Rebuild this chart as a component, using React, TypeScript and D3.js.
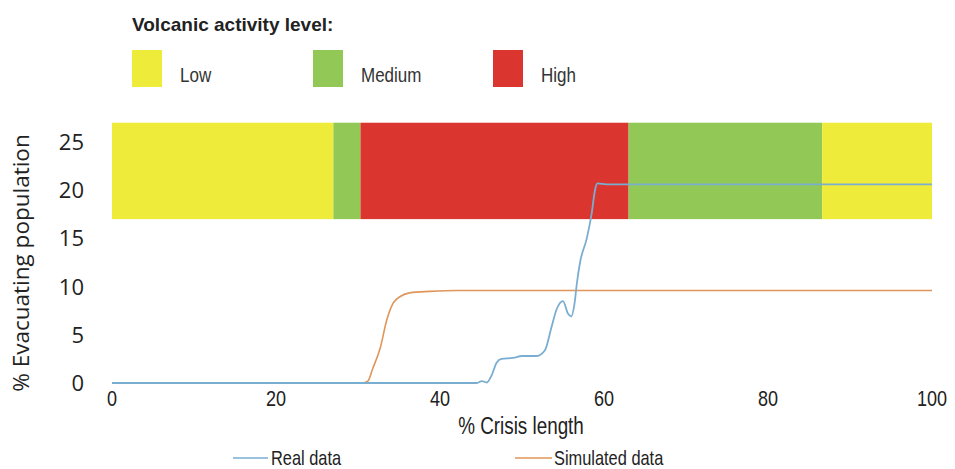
import React from "react";
import * as d3 from "d3";

const levelNames = ["Low", "Medium", "High"];
const levelColors = ["#efeb3b", "#92c855", "#db3530"];
// activity bands: [start %, end %, level index]
const bandStarts = [0, 27, 30.3, 63, 86.6];
const bandEnds = [27, 30.3, 63, 86.6, 100];
const bandLevels = [0, 1, 2, 1, 0];
const bandBottom = 17;
const bandTop = 27;

const realX = [0, 30, 44.5, 45.1, 45.7, 46.3, 46.9, 47.5, 48.9, 50, 51.8, 52.8, 53.6, 54.2, 55, 55.6, 56, 56.4, 56.7, 57.1, 57.9, 58.5, 58.9, 59.2, 60.3, 100];
const realY = [0, 0, 0, 0.2, 0.05, 0.8, 2.1, 2.5, 2.6, 2.8, 2.8, 3.4, 5.8, 7.6, 8.5, 7.2, 6.9, 8.2, 10.4, 12.6, 15.0, 17.6, 20, 20.7, 20.6, 20.6];

const simX = [0, 30.5, 31.2, 31.8, 32.7, 33.5, 34.3, 35.2, 36.3, 38.8, 42, 100];
const simY = [0, 0, 0.2, 1.5, 3.6, 6.5, 8.3, 9.0, 9.35, 9.5, 9.6, 9.6];

const xTicks = [0, 20, 40, 60, 80, 100];
const yTicks = [0, 5, 10, 15, 20, 25];

const sans = "'Liberation Sans', Arial, sans-serif";

function NarrowText(props: { x: number; y: number; size: number; anchor?: string; sx?: number; children: React.ReactNode; fill?: string }) {
  const sx = props.sx ?? 0.82;
  return (
    <text
      transform={`translate(${props.x},${props.y}) scale(${sx},1)`}
      textAnchor={props.anchor || "start"}
      fontFamily={sans}
      fontSize={props.size}
      fill={props.fill || "#222"}
    >
      {props.children}
    </text>
  );
}

export default function App() {
  const x = d3.scaleLinear().domain([0, 100]).range([112, 932]);
  const y = d3.scaleLinear().domain([0, 25]).range([383, 142]);
  const line = d3
    .line<[number, number]>()
    .x((d) => x(d[0]))
    .y((d) => y(d[1]))
    .curve(d3.curveMonotoneX);
  const realPts = realX.map((v, i) => [v, realY[i]] as [number, number]);
  const simPts = simX.map((v, i) => [v, simY[i]] as [number, number]);
  const legendX = [132, 313, 493];
  return (
    <svg width={955} height={469} style={{ position: "absolute", left: 0, top: 0, background: "#fff" }}>
      <text x={132} y={31} fontFamily={sans} fontWeight="bold" fontSize={19} fill="#222">
        Volcanic activity level:
      </text>
      {levelNames.map((n, i) => (
        <g key={n}>
          <rect x={legendX[i]} y={50} width={30} height={37} fill={levelColors[i]} />
          <NarrowText x={legendX[i] + 48} y={82} size={20} sx={0.85} fill="#333">
            {n}
          </NarrowText>
        </g>
      ))}
      {bandStarts.map((s, i) => (
        <rect
          key={i}
          x={x(s)}
          y={y(bandTop)}
          width={x(bandEnds[i]) - x(s)}
          height={y(bandBottom) - y(bandTop)}
          fill={levelColors[bandLevels[i]]}
        />
      ))}
      <path d={line(simPts) || ""} fill="none" stroke="#e0955a" strokeWidth={1.6} />
      <path d={line(realPts) || ""} fill="none" stroke="#7aaed0" strokeWidth={1.8} />
      {yTicks.map((t) => (
        <text key={t} x={84} y={y(t)} dy="0.36em" textAnchor="end" fontFamily={"'Open Sans', sans-serif"} fontSize={22} fill="#222">
          {t}
        </text>
      ))}
      <text
        transform={`translate(29, 263) rotate(-90)`}
        textAnchor="middle"
        fontFamily={"'Open Sans', sans-serif"}
        fontSize={22.5}
        fill="#222"
      >
        % Evacuating population
      </text>
      {xTicks.map((t) => (
        <NarrowText key={t} x={x(t)} y={406} anchor="middle" size={22}>
          {t}
        </NarrowText>
      ))}
      <NarrowText x={521} y={434} anchor="middle" size={23}>
        % Crisis length
      </NarrowText>
      <line x1={233} x2={268} y1={458} y2={458} stroke="#7aaed0" strokeWidth={1.6} />
      <NarrowText x={271} y={465} size={20}>
        Real data
      </NarrowText>
      <line x1={515} x2={552} y1={458} y2={458} stroke="#e0955a" strokeWidth={1.6} />
      <NarrowText x={554} y={465} size={20}>
        Simulated data
      </NarrowText>
    </svg>
  );
}
